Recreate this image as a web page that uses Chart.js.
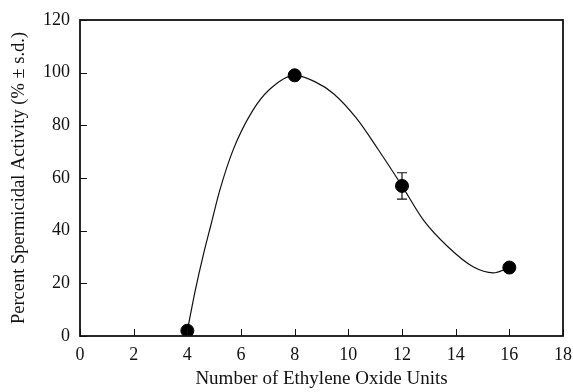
<!DOCTYPE html>
<html><head><meta charset="utf-8">
<script src="https://cdn.jsdelivr.net/npm/chart.js@4"></script>
<style>html,body{margin:0;padding:0;background:#fff}#wrap{width:573px;height:392px;position:relative}</style>
</head><body><div id="wrap"><canvas id="c"></canvas></div>
<script>
// Measured data
const ethyleneOxideUnits = [4, 8, 12, 16];
const activity = [2, 99, 57, 26];
const activitySD = [0, 0, 5, 0];
// Fitted smooth curve
const fitX = [4, 4.3, 4.6, 4.9, 5.2, 5.7, 6.4, 7.05, 8, 8.75, 9.45, 10.3, 11.1, 12, 12.8, 13.7, 14.65, 15.4, 16];
const fitY = [2, 17.5, 31, 43, 55, 70.5, 85, 93.5, 99, 96.6, 92, 82.7, 71, 57, 44, 34, 26.3, 24, 26];
// Tick labels
const xTicks = [0, 2, 4, 6, 8, 10, 12, 14, 16, 18];
const yTicks = [0, 20, 40, 60, 80, 100, 120];

const FONT = "'Liberation Serif', 'Times New Roman', serif";

const framePlugin = {
  id: 'frame',
  beforeDatasetsDraw(chart) {
    const ctx = chart.ctx, xs = chart.scales.x, ys = chart.scales.y;
    ctx.save();
    ctx.strokeStyle = '#111';
    ctx.lineWidth = 1.2;
    ethyleneOxideUnits.forEach((xv, i) => {
      const sd = activitySD[i];
      if (!sd) return;
      const px = xs.getPixelForValue(xv);
      const top = ys.getPixelForValue(activity[i] + sd);
      const bot = ys.getPixelForValue(activity[i] - sd);
      ctx.beginPath();
      ctx.moveTo(px, top); ctx.lineTo(px, bot);
      ctx.moveTo(px - 5, top); ctx.lineTo(px + 5, top);
      ctx.moveTo(px - 5, bot); ctx.lineTo(px + 5, bot);
      ctx.stroke();
    });
    ctx.restore();
  },
  afterDraw(chart) {
    const ctx = chart.ctx, a = chart.chartArea, xs = chart.scales.x, ys = chart.scales.y;
    ctx.save();
    ctx.strokeStyle = '#111';
    ctx.lineWidth = 1;
    ctx.beginPath();
    xTicks.forEach(v => {
      const px = Math.round(xs.getPixelForValue(v)) + 0.5;
      ctx.moveTo(px, a.bottom); ctx.lineTo(px, a.bottom - 7);
    });
    yTicks.forEach(v => {
      const py = Math.round(ys.getPixelForValue(v)) + 0.5;
      ctx.moveTo(a.left, py); ctx.lineTo(a.left + 7, py);
    });
    ctx.stroke();
    ctx.lineWidth = 1.8;
    ctx.strokeRect(a.left, a.top, a.right - a.left, a.bottom - a.top);
    ctx.restore();
  }
};

new Chart(document.getElementById('c'), {
  type: 'scatter',
  data: {
    datasets: [
      {
        label: 'fit',
        data: fitX.map((x, i) => ({ x, y: fitY[i] })),
        showLine: true,
        borderColor: '#111',
        borderWidth: 1.2,
        pointRadius: 0,
        cubicInterpolationMode: 'monotone',
        fill: false,
        order: 2
      },
      {
        label: 'activity',
        data: ethyleneOxideUnits.map((x, i) => ({ x, y: activity[i] })),
        backgroundColor: '#000',
        borderColor: '#000',
        pointRadius: 6.5,
        pointHoverRadius: 6.5,
        showLine: false,
        order: 1
      }
    ]
  },
  options: {
    responsive: true,
    maintainAspectRatio: false,
    devicePixelRatio: 1,
    animation: false,
    events: [],
    layout: { padding: { top: 20, right: 0, left: 0, bottom: 0 } },
    plugins: { legend: { display: false }, tooltip: { enabled: false } },
    scales: {
      x: {
        type: 'linear', min: 0, max: 18,
        afterBuildTicks: s => { s.ticks = xTicks.map(v => ({ value: v })); },
        afterFit: s => { s.height = 56; s.paddingRight = 10; s.paddingLeft = 0; },
        grid: { display: false, drawTicks: false },
        border: { display: false },
        ticks: { color: '#111', padding: 8, maxRotation: 0, font: { family: FONT, size: 18 } },
        title: { display: true, text: 'Number of Ethylene Oxide Units', color: '#111',
                 font: { family: FONT, size: 19 }, padding: { top: 0, bottom: 2 } }
      },
      y: {
        type: 'linear', min: 0, max: 120,
        afterBuildTicks: s => { s.ticks = yTicks.map(v => ({ value: v })); },
        afterFit: s => { s.width = 80; s.paddingTop = 0; s.paddingBottom = 0; },
        grid: { display: false, drawTicks: false },
        border: { display: false },
        ticks: { color: '#111', padding: 10, font: { family: FONT, size: 18 } },
        title: { display: true, text: 'Percent Spermicidal Activity (% \u00b1 s.d.)', color: '#111',
                 font: { family: FONT, size: 18.5 }, padding: { top: 8, bottom: 0 } }
      }
    }
  },
  plugins: [framePlugin]
});
</script>
</body></html>
